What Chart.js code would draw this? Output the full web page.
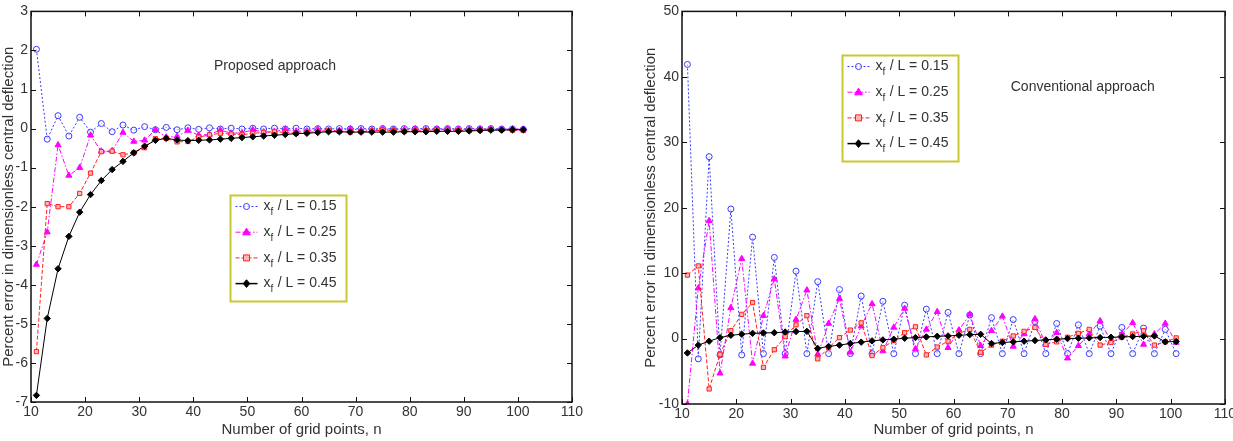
<!DOCTYPE html>
<html><head><meta charset="utf-8">
<script src="https://cdn.jsdelivr.net/npm/chart.js@4.4.0/dist/chart.umd.min.js"></script>
<style>
html,body{margin:0;padding:0;background:#fff;overflow:hidden;width:1233px;height:441px;position:relative;}
canvas{position:absolute;top:0;}
#c1{left:0;} #c2{left:636px;}
</style></head><body>
<canvas id="c1" width="620" height="441"></canvas>
<canvas id="c2" width="620" height="441"></canvas>
<script>
// ---- data ----
const gridPoints = [11,13,15,17,19,21,23,25,27,29,31,33,35,37,39,41,43,45,47,49,51,53,55,57,59,61,63,65,67,69,71,73,75,77,79,81,83,85,87,89,91,93,95,97,99,101];
const xTicksLabels = [10,20,30,40,50,60,70,80,90,100,110];
const seriesRatios = ['0.15','0.25','0.35','0.45'];

const proposed015 = [2.03,-0.27,0.33,-0.19,0.29,-0.09,0.13,-0.08,0.09,-0.04,
 0.05,-0.03,0.03,-0.03,0.02,-0.02,0.02,-0.01,0.01,-0.01,
 0.01,-0.01,0.01,-0.01,0.01,-0.01,0.00,-0.01,0.00,-0.01,
 0.00,-0.01,0.00,-0.01,0.00,-0.01,0.00,-0.01,0.00,-0.01,
 0.00,-0.01,0.00,-0.01,-0.01,-0.02];
const proposed025 = [-3.48,-2.65,-0.42,-1.20,-1.00,-0.17,-0.58,-0.57,-0.10,-0.33,
 -0.30,-0.03,-0.22,-0.20,-0.05,-0.17,-0.15,-0.04,-0.12,-0.11,
 -0.03,-0.09,-0.08,-0.02,-0.07,-0.06,-0.02,-0.05,-0.05,-0.01,
 -0.04,-0.04,-0.01,-0.03,-0.03,-0.01,-0.03,-0.02,-0.01,-0.02,
 -0.02,-0.01,-0.02,-0.02,-0.01,-0.02];
const proposed035 = [-5.71,-1.92,-2.00,-2.00,-1.66,-1.14,-0.59,-0.58,-0.67,-0.62,
 -0.49,-0.26,-0.25,-0.34,-0.33,-0.22,-0.16,-0.12,-0.14,-0.16,
 -0.12,-0.10,-0.08,-0.10,-0.12,-0.10,-0.07,-0.05,-0.07,-0.09,
 -0.08,-0.06,-0.04,-0.05,-0.07,-0.06,-0.05,-0.03,-0.03,-0.05,
 -0.05,-0.04,-0.02,-0.03,-0.04,-0.05];
const proposed045 = [-6.83,-4.86,-3.59,-2.76,-2.14,-1.69,-1.33,-1.05,-0.84,-0.62,
 -0.45,-0.30,-0.25,-0.29,-0.31,-0.30,-0.29,-0.27,-0.25,-0.23,
 -0.21,-0.19,-0.17,-0.15,-0.13,-0.12,-0.10,-0.08,-0.08,-0.09,
 -0.09,-0.09,-0.09,-0.09,-0.08,-0.08,-0.08,-0.07,-0.07,-0.07,
 -0.06,-0.05,-0.04,-0.04,-0.03,-0.03];

const conventional015 = [41.9,-3.1,27.8,-2.5,19.8,-2.5,15.5,-2.3,12.4,-2.3,
 10.3,-2.3,8.7,-2.3,7.5,-2.3,6.5,-2.3,5.7,-2.3,
 5.1,-2.3,4.5,-2.3,4.0,-2.3,3.6,-2.3,3.2,-2.3,
 2.9,-2.3,2.6,-2.3,2.3,-2.3,2.1,-2.3,1.9,-2.3,
 1.7,-2.3,1.6,-2.3,1.4,-2.3];
const conventional025 = [-10.0,7.7,18.0,-5.3,4.7,12.2,-3.8,3.5,9.1,-2.7,
 2.9,7.4,-2.4,2.3,6.1,-2.1,1.9,5.3,-1.9,1.7,
 4.6,-1.6,1.4,4.1,-1.4,1.3,3.7,-1.1,1.2,3.4,
 -1.2,0.7,3.0,-0.9,0.9,-3.0,-1.1,0.7,2.7,-0.4,
 0.7,2.4,-0.9,0.7,2.3,-0.6];
const conventional035 = [9.7,11.1,-7.7,-2.4,1.2,3.7,5.5,-4.4,-1.7,0.3,
 2.1,3.5,-3.1,-1.4,0.15,1.3,2.4,-2.6,-1.4,-0.3,
 0.9,1.8,-2.5,-1.3,-0.4,0.8,1.4,-2.1,-1.0,-0.4,
 0.4,1.1,1.7,-0.9,-0.5,0.2,0.8,1.4,-1.0,-0.6,
 0.2,0.7,1.2,-1.0,-0.5,0.1];
const conventional045 = [-2.2,-1.0,-0.4,0.15,0.5,0.66,0.8,0.86,0.9,1.0,
 1.07,1.1,-1.5,-1.2,-1.0,-0.75,-0.55,-0.35,-0.2,-0.1,
 0.05,0.15,0.25,0.35,0.4,0.5,0.6,0.65,-0.76,-0.6,
 -0.5,-0.4,-0.3,-0.2,-0.1,0.0,0.05,0.1,0.15,0.2,
 0.25,0.3,0.35,0.4,-0.5,-0.45];

// ---- styles ----
const FONT = "'Liberation Sans', Arial, sans-serif";
const TEXT = '#333';
const styles = [
  {color:'#3a3aff', fill:'rgba(255,255,255,0.6)', dash:[2,2], point:'circle', r:3},
  {color:'#ff00ff', fill:'#ff00ff', dash:[5,2,1.5,2], point:'triangle', r:3.5},
  {color:'#ff2020', fill:'#ffb4b4', dash:[4,2], point:'rect', r:3},
  {color:'#000000', fill:'#000000', dash:[], point:'rectRot', r:3.2}
];

function drawMarker(ctx, s, x, y){
  const r = s.r;
  ctx.save(); ctx.setLineDash([]); ctx.lineWidth = 1;
  ctx.strokeStyle = s.color; ctx.fillStyle = s.fill;
  ctx.beginPath();
  if (s.point === 'circle') ctx.arc(x, y, r, 0, Math.PI*2);
  else if (s.point === 'triangle') { ctx.moveTo(x, y-r*1.15); ctx.lineTo(x+r*1.1, y+r*0.75); ctx.lineTo(x-r*1.1, y+r*0.75); ctx.closePath(); }
  else if (s.point === 'rect') ctx.rect(x-r, y-r, 2*r, 2*r);
  else { ctx.moveTo(x, y-r*1.2); ctx.lineTo(x+r, y); ctx.lineTo(x, y+r*1.2); ctx.lineTo(x-r, y); ctx.closePath(); }
  ctx.fill(); ctx.stroke(); ctx.restore();
}

function makeChart(id, series, yMin, yMax, yStep, cfg){
  const datasets = series.map((vals, i) => ({
    label: 'x_f / L = ' + seriesRatios[i],
    data: gridPoints.map((n, k) => ({x: n, y: vals[k]})),
    borderColor: styles[i].color,
    borderWidth: 1,
    borderDash: styles[i].dash,
    pointStyle: styles[i].point,
    pointRadius: styles[i].r,
    pointBorderWidth: 1,
    pointBorderColor: styles[i].color,
    pointBackgroundColor: styles[i].fill,
    tension: 0,
    fill: false,
    order: 3 - i
  }));

  const overlay = {
    id: 'overlay_' + id,
    afterDatasetsDraw(chart){
      const ctx = chart.ctx, a = chart.chartArea, xs = chart.scales.x, ys = chart.scales.y;
      ctx.save();
      // frame
      ctx.setLineDash([]);
      ctx.strokeStyle = '#111'; ctx.lineWidth = 1.5;
      ctx.strokeRect(a.left, a.top, a.right - a.left, a.bottom - a.top);
      // inward ticks
      ctx.lineWidth = 1;
      ctx.beginPath();
      xs.ticks.forEach(t => {
        const px = Math.round(xs.getPixelForValue(t.value)) + 0.5;
        ctx.moveTo(px, a.bottom); ctx.lineTo(px, a.bottom - 5);
        ctx.moveTo(px, a.top); ctx.lineTo(px, a.top + 5);
      });
      ys.ticks.forEach(t => {
        const py = Math.round(ys.getPixelForValue(t.value)) + 0.5;
        ctx.moveTo(a.left, py); ctx.lineTo(a.left + 5, py);
        ctx.moveTo(a.right, py); ctx.lineTo(a.right - 5, py);
      });
      ctx.stroke();
      // annotation
      ctx.fillStyle = TEXT;
      ctx.font = '14px ' + FONT;
      ctx.textAlign = 'center'; ctx.textBaseline = 'middle';
      ctx.fillText(cfg.note, xs.getPixelForValue(cfg.noteX), ys.getPixelForValue(cfg.noteY));
      // legend
      const lx = Math.round(xs.getPixelForValue(cfg.legX)) + 0.5;
      const ly = Math.round(ys.getPixelForValue(cfg.legY)) + 0.5;
      const lw = 116, lh = 106;
      ctx.fillStyle = '#fff';
      ctx.fillRect(lx, ly, lw, lh);
      ctx.strokeStyle = '#c8c830'; ctx.lineWidth = 2;
      ctx.strokeRect(lx, ly, lw, lh);
      styles.forEach((s, i) => {
        const cy = ly + 11 + i * 25.7;
        ctx.save();
        ctx.strokeStyle = s.color; ctx.lineWidth = s.dash.length ? 1 : 1.5;
        ctx.setLineDash(s.dash);
        ctx.beginPath(); ctx.moveTo(lx + 5, cy); ctx.lineTo(lx + 27, cy); ctx.stroke();
        ctx.restore();
        drawMarker(ctx, s, lx + 16, cy);
        ctx.fillStyle = TEXT;
        ctx.textAlign = 'left'; ctx.textBaseline = 'middle';
        ctx.font = '14px ' + FONT;
        let tx = lx + 33;
        ctx.fillText('x', tx, cy);
        tx += ctx.measureText('x').width;
        ctx.font = '10px ' + FONT;
        ctx.fillText('f', tx, cy + 6);
        tx += ctx.measureText('f').width + 0.5;
        ctx.font = '14px ' + FONT;
        ctx.fillText(' / L = ' + seriesRatios[i], tx, cy);
      });
      ctx.restore();
    }
  };

  return new Chart(document.getElementById(id), {
    type: 'line',
    data: { datasets },
    options: {
      responsive: false,
      animation: false,
      events: [],
      layout: { padding: cfg.padding },
      plugins: { legend: {display:false}, tooltip: {enabled:false} },
      scales: {
        x: {
          type: 'linear', min: 10, max: 110,
          afterBuildTicks(scale){ scale.ticks = xTicksLabels.map(v => ({value: v})); },
          afterFit(scale){ scale.height = cfg.xh; },
          grid: { display: false, drawTicks: false },
          border: { display: false },
          ticks: { color: TEXT, font: {size: 14, family: FONT}, padding: 2, maxRotation: 0, autoSkip: false },
          title: { display: true, text: 'Number of grid points, n', color: TEXT, font: {size: 15, family: FONT}, padding: {top: 0, bottom: 2} }
        },
        y: {
          type: 'linear', min: yMin, max: yMax,
          ticks: { stepSize: yStep, color: TEXT, font: {size: 14, family: FONT}, padding: 3 },
          afterFit(scale){ scale.width = cfg.yw; },
          grid: { display: false, drawTicks: false },
          border: { display: false },
          title: { display: true, text: 'Percent error in dimensionless central deflection', color: TEXT, font: {size: 15, family: FONT}, padding: {top: cfg.ytp, bottom: 0} }
        }
      }
    },
    plugins: [overlay]
  });
}

makeChart('c1', [proposed015, proposed025, proposed035, proposed045], -7, 3, 1, {
  padding: {left: 0, right: 48, top: 8, bottom: 0}, xh: 39, yw: 31, ytp: 0,
  note: 'Proposed approach', noteX: 55.1, noteY: 1.6,
  legX: 46.8, legY: -1.7
});
makeChart('c2', [conventional015, conventional025, conventional035, conventional045], -10, 50, 10, {
  padding: {left: 0, right: 31, top: 10, bottom: 0}, xh: 37, yw: 46, ytp: 6,
  note: 'Conventional approach', noteX: 83.8, noteY: 38.4,
  legX: 39.5, legY: 43.3
});
</script>
</body></html>
